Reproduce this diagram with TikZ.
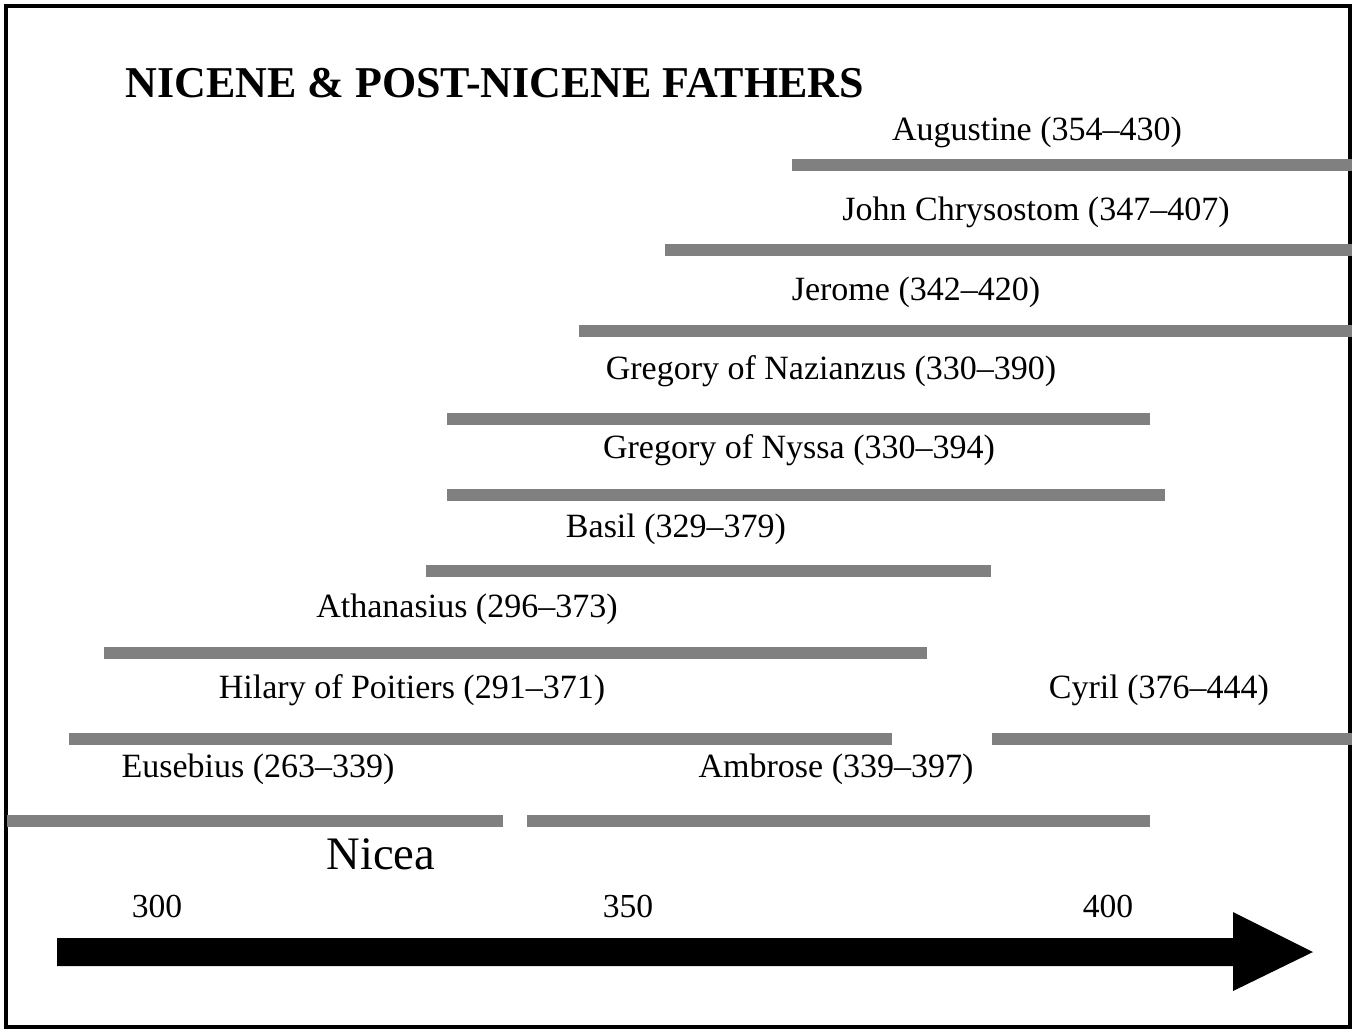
\documentclass[tikz,border=0pt]{standalone}
\usepackage{fontspec}
\setmainfont{Liberation Serif}
\begin{document}
\begin{tikzpicture}[x=0.5pt,y=-0.5pt,
  bar/.style={fill={rgb,255:red,128;green,128;blue,128}},
  lbl/.style={inner sep=0pt,font=\fontsize{17}{20}\selectfont},
  axlbl/.style={inner sep=0pt,font=\fontsize{16.8}{20}\selectfont},
  ttl/.style={inner sep=0pt,font=\fontsize{22}{26}\selectfont\bfseries},
  frame/.style={draw=black,line width=2pt}]
\useasboundingbox (0,0) rectangle (1354,1032);
\draw[frame] (6,6) rectangle (1350,1027);
% title
\node[ttl,anchor=base west] (title) at (125,98) {NICENE \& POST-NICENE FATHERS};
% bars
\fill[bar] (792,159) rectangle (1352,171);
\fill[bar] (665,244) rectangle (1352,256);
\fill[bar] (579,325) rectangle (1352,337);
\fill[bar] (447,413) rectangle (1150,425);
\fill[bar] (447,489) rectangle (1165,501);
\fill[bar] (426,565) rectangle (991,577);
\fill[bar] (104,647) rectangle (927,659);
\fill[bar] (69,733) rectangle (892,745);
\fill[bar] (992,733) rectangle (1352,745);
\fill[bar] (7,815) rectangle (503,827);
\fill[bar] (527,815) rectangle (1150,827);
% labels
\node[lbl] (aug) at (1037,132) {Augustine (354–430)};
\node[lbl] (chr) at (1036,212) {John Chrysostom (347–407)};
\node[lbl] (jer) at (916,292) {Jerome (342–420)};
\node[lbl] (gnaz) at (831,371) {Gregory of Nazianzus (330–390)};
\node[lbl] (gnys) at (799,450) {Gregory of Nyssa (330–394)};
\node[lbl] (bas) at (676,529) {Basil (329–379)};
\node[lbl] (ath) at (467,609) {Athanasius (296–373)};
\node[lbl] (hil) at (412,690) {Hilary of Poitiers (291–371)};
\node[lbl] (cyr) at (1159,690) {Cyril (376–444)};
\node[lbl] (eus) at (258,769) {Eusebius (263–339)};
\node[lbl] (amb) at (836,769) {Ambrose (339–397)};
\node[inner sep=0pt,font=\fontsize{23.3}{28}\selectfont] (nic) at (381,854) {Nicea};
% axis
\node[axlbl] (y300) at (157,906) {300};
\node[axlbl] (y350) at (628,906) {350};
\node[axlbl] (y400) at (1108,906) {400};
\fill[black] (57,938) -- (1233,938) -- (1233,912) -- (1313,952) -- (1233,991) -- (1233,966) -- (57,966) -- cycle;
\end{tikzpicture}
\end{document}
